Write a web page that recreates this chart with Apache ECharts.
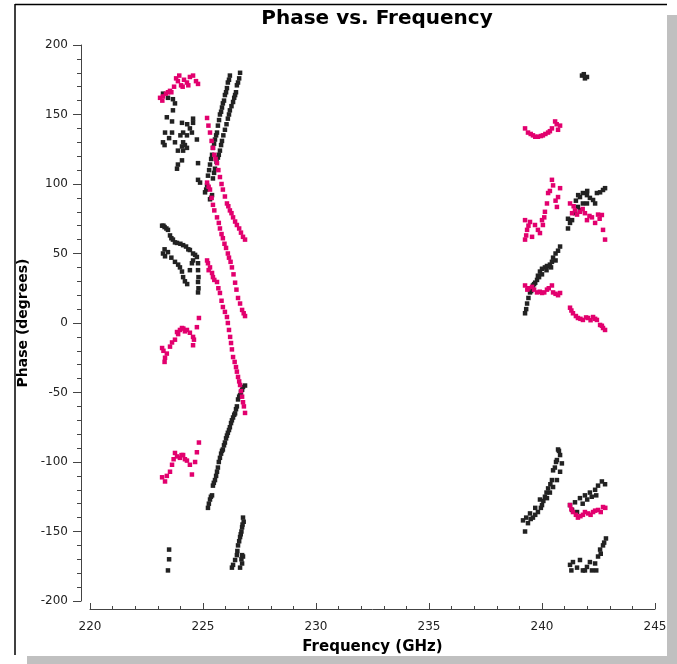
<!DOCTYPE html>
<html>
<head>
<meta charset="utf-8">
<script src="https://cdn.jsdelivr.net/npm/echarts@6/dist/echarts.min.js"></script>
<style>
html,body{margin:0;padding:0;background:#fff;}
#c{width:677px;height:664px;}
</style>
</head>
<body>
<div id="c"></div>
<script>
// ---- axis ticks ----
const xTicks = [220, 225, 230, 235, 240, 245];
const yTicks = [-200, -150, -100, -50, 0, 50, 100, 150, 200];

// ---- black series (frequency GHz, phase deg) ----
const blackA = [[223.23,165],[223.45,162],[223.67,161],[223.76,158],[223.67,153],[223.4,148],[223.63,145],[224.07,144],[224.56,147],[224.56,144],[224.42,140],[224.51,137],[224.29,135],[224.12,137],[223.32,137],[223.63,137],[223.23,130],[223.76,130],[224.12,130],[224.07,127],[224.2,128],[224.73,132],[223.89,124],[224.12,124],[224.29,126],[224.07,117],[223.89,114],[223.85,111],[224.78,115],[224.78,103],[223.3,128],[223.5,133],[224.0,135],[224.3,143],[224.87,101]];
const blackB = [[223.19,70],[223.25,70],[223.3,69],[223.38,68],[223.45,67],[223.54,63],[223.6,61],[223.67,60],[223.76,58],[223.85,57.6],[224.0,57],[224.12,56],[224.25,55],[224.35,53],[224.42,52.5],[224.56,50],[224.65,49],[224.73,47.5],[224.78,43],[224.78,38],[224.8,33],[224.78,29.5],[224.8,25],[224.78,22],[223.23,50],[223.32,48],[223.45,51],[223.6,47],[223.76,44],[223.9,42],[223.98,40],[224.07,37],[224.12,33],[224.2,30],[224.42,38],[224.51,43],[224.56,45],[223.3,53],[224.3,28]];
const blackC = [[223.5,-163],[223.5,-170],[223.45,-178]];
const blackD = [[225.09,94],[225.14,96],[225.18,99],[225.22,106],[225.27,110],[225.31,114],[225.36,118],[225.4,121],[225.44,126],[225.49,129],[225.53,132],[225.58,135],[225.62,137],[225.66,142],[225.71,146],[225.75,150],[225.8,152],[225.84,155],[225.88,158],[225.93,160],[225.97,164],[226.02,166],[226.06,169],[226.1,173],[226.15,175],[226.19,178],[225.31,89],[225.36,90],[225.4,92],[225.44,104],[225.49,108],[225.53,111],[225.6,116],[225.66,119],[225.7,121],[225.75,124],[225.8,128],[225.84,131],[225.9,135],[225.97,139],[226.04,143],[226.1,147],[226.15,150],[226.19,153],[226.26,156],[226.33,159],[226.38,162],[226.42,164],[226.46,166],[226.5,171],[226.55,173],[226.6,176],[226.64,180]];
const blackE = [[225.22,-133],[225.26,-130],[225.31,-127],[225.35,-125],[225.4,-124],[225.44,-117],[225.48,-115],[225.53,-113],[225.58,-110],[225.62,-107],[225.66,-104],[225.7,-100],[225.75,-97],[225.8,-94],[225.84,-92],[225.88,-91],[225.93,-88],[225.97,-86],[226.02,-83],[226.06,-81],[226.1,-79],[226.15,-77],[226.19,-75],[226.24,-72],[226.28,-70],[226.33,-68],[226.38,-66],[226.42,-65],[226.46,-62],[226.5,-60],[226.55,-55],[226.6,-53],[226.64,-52],[226.68,-50],[226.73,-48],[226.77,-46],[226.86,-45]];
const blackF = [[226.8,-143],[226.77,-140],[226.75,-145],[226.73,-147],[226.7,-150],[226.67,-152],[226.64,-154],[226.6,-157],[226.55,-160],[226.52,-164],[226.5,-167],[226.42,-170.5],[226.33,-174],[226.28,-176],[226.73,-167],[226.77,-168],[226.73,-173],[226.64,-176],[226.7,-170]];
const blackG = [[239.25,7],[239.3,10],[239.34,14],[239.4,18],[239.47,22],[239.56,25],[239.6,27],[239.7,29],[239.78,31],[239.82,34],[239.91,37],[240.0,39],[240.13,40],[240.22,41],[240.35,42],[240.44,44],[240.49,47],[240.6,50],[240.71,52],[240.8,55],[240.0,35],[240.2,38],[240.4,40],[240.6,45],[239.52,23],[239.65,28],[239.87,33]];
const blackH = [[239.25,-150],[239.38,-144],[239.5,-141],[239.6,-140],[239.82,-136],[239.95,-133],[240.0,-131],[240.13,-125],[240.27,-119],[240.44,-113],[240.49,-106],[240.62,-100],[240.66,-98.6],[240.71,-91],[239.16,-142],[239.3,-140],[239.47,-137],[239.7,-133],[239.91,-127],[240.22,-126],[240.35,-122],[240.49,-118],[240.66,-113],[240.8,-107],[240.88,-101],[240.8,-95],[240.75,-92],[239.7,-138],[240.06,-128],[240.2,-122],[240.37,-116],[240.57,-104]];
const blackI = [[241.77,178],[241.9,176],[241.99,177],[241.85,179]];
const blackJ = [[241.15,68],[241.15,75],[241.24,72],[241.33,74],[241.46,79],[241.59,83.5],[241.68,81],[241.68,90.6],[241.81,93.5],[241.81,86],[241.99,92],[241.99,86],[242.12,90],[242.26,88.5],[242.35,86],[242.43,93.5],[242.57,94],[242.7,95.7],[242.79,97],[242.0,95],[241.5,88],[241.6,92]];
const blackK = [[241.24,-131],[241.33,-134.5],[241.46,-129],[241.55,-136],[241.68,-126],[241.9,-124],[242.12,-122],[242.35,-120],[242.48,-117],[242.65,-114],[242.79,-116],[241.8,-130],[242.0,-127],[242.2,-125],[242.4,-124]];
const blackL = [[241.24,-174],[241.37,-172],[241.55,-176],[241.68,-170.5],[241.81,-178],[241.99,-175.5],[242.12,-172],[242.21,-178],[242.35,-173],[242.48,-168],[242.57,-163],[242.7,-160],[242.83,-155],[241.3,-178],[241.9,-178],[242.4,-178],[242.6,-166],[242.75,-158]];

// ---- magenta series ----
const pinkA = [[223.1,162],[223.23,163],[223.36,165],[223.54,167],[223.72,170],[223.81,176],[223.89,174],[224.03,171],[224.16,175],[224.29,173],[224.42,177],[224.56,178],[224.69,174],[224.78,172],[223.2,160],[223.6,166],[223.95,178],[224.35,171],[224.1,170],[223.45,166]];
const pinkB = [[223.19,-18],[223.32,-25],[223.4,-22],[223.54,-17],[223.63,-14],[223.76,-12],[223.85,-6.5],[224.07,-3.6],[224.29,-5],[224.42,-7],[224.56,-10],[224.56,-16],[224.73,-3],[224.82,3.6],[223.25,-20],[223.9,-8],[224.2,-6],[224.6,-12],[223.3,-28],[223.98,-5],[224.13,-4]];
const pinkC = [[223.19,-111],[223.32,-114],[223.4,-110],[223.54,-107],[223.63,-102],[223.76,-93.5],[223.98,-97],[224.12,-95],[224.29,-99],[224.42,-102],[224.51,-109],[224.65,-100],[224.73,-93],[224.82,-86],[223.85,-96],[224.2,-98],[223.7,-98],[224.05,-95]];
const pinkD = [[225.18,147.5],[225.24,142],[225.31,137],[225.38,131],[225.44,126],[225.5,121],[225.56,118],[225.62,115],[225.68,110],[225.75,105],[225.82,100],[225.88,96],[225.97,91],[226.06,86],[226.12,84],[226.19,81],[226.26,79],[226.33,76],[226.42,73],[226.5,70.5],[226.6,68],[226.68,65],[226.77,62],[226.86,60]];
const pinkE = [[225.18,101],[225.25,98],[225.31,96],[225.38,90],[225.44,85],[225.5,81],[225.62,76],[225.7,72],[225.75,68],[225.82,64],[225.88,61],[225.95,57],[226.02,54],[226.1,50],[226.15,47],[226.22,44],[226.28,40],[226.35,35],[226.42,29],[226.48,24],[226.55,18],[226.64,14],[226.73,9.4],[226.8,7],[226.86,5]];
const pinkF = [[225.18,45],[225.22,43],[225.25,38],[225.31,40],[225.4,36],[225.44,33],[225.5,31],[225.62,29.5],[225.68,25],[225.75,21.6],[225.82,16],[225.88,11.5],[225.97,8],[226.06,4.3],[226.1,0],[226.15,-5],[226.2,-10],[226.24,-14.4],[226.28,-19],[226.33,-24.5],[226.4,-28],[226.46,-31.7],[226.5,-35],[226.55,-38.8],[226.6,-42],[226.64,-44.6],[226.68,-49],[226.73,-53],[226.77,-57],[226.81,-60],[226.86,-64.7]];
const pinkG = [[239.25,140],[239.38,137],[239.5,136],[239.6,135],[239.7,134],[239.82,134],[239.95,134.5],[240.04,135],[240.15,136],[240.27,137],[240.35,138],[240.44,140],[240.58,145],[240.65,143],[240.71,139],[240.8,142]];
const pinkH = [[240.44,103],[240.49,99],[240.8,97],[240.71,90.6],[240.66,83.5],[240.27,93.5],[240.22,86],[240.13,80],[240.0,74],[240.04,70.5],[239.69,70.5],[239.47,72.7],[239.25,74],[239.34,67],[239.25,60],[239.56,62],[239.82,67],[239.91,64.7],[239.4,70],[240.1,76],[239.3,63],[240.35,95],[240.6,88]];
const pinkI = [[239.25,27],[239.35,24],[239.4,25],[239.56,26],[239.65,24],[239.78,22],[239.9,22.5],[240.0,21.6],[240.1,22],[240.22,24],[240.3,25],[240.44,27],[240.49,22],[240.6,21],[240.71,20],[240.8,21.6]];
const pinkJ = [[241.24,86],[241.33,79],[241.4,84],[241.46,81],[241.55,78],[241.68,80],[241.8,82],[241.9,79],[241.99,74],[242.1,77],[242.21,76],[242.35,72],[242.48,78],[242.55,75],[242.65,77.7],[242.7,67],[242.79,60]];
const pinkK = [[241.24,11],[241.3,9],[241.37,7],[241.5,5],[241.59,3.6],[241.7,3],[241.81,2.2],[241.95,4],[242.04,3.6],[242.15,2],[242.26,4.3],[242.35,3],[242.43,2.2],[242.57,-1.4],[242.65,-2],[242.7,-3.6],[242.79,-5]];
const pinkL = [[241.24,-131],[241.3,-134],[241.37,-136],[241.5,-138],[241.59,-140],[241.7,-139],[241.81,-138],[241.9,-136],[242.04,-137],[242.15,-138],[242.26,-136],[242.35,-135],[242.48,-134.5],[242.6,-136],[242.7,-132.4],[242.8,-133]];

const blackData = [].concat(blackA, blackB, blackC, blackD, blackE, blackF, blackG, blackH, blackI, blackJ, blackK, blackL);
const pinkData = [].concat(pinkA, pinkB, pinkC, pinkD, pinkE, pinkF, pinkG, pinkH, pinkI, pinkJ, pinkK, pinkL);

const chart = echarts.init(document.getElementById('c'), null, {renderer: 'canvas'});
const FONT = 'DejaVu Sans';
const axisCol = '#444';
chart.setOption({
  animation: false,
  backgroundColor: '#fff',
  title: {
    text: 'Phase vs. Frequency',
    left: 372, top: 4, textAlign: 'center',
    textStyle: {fontFamily: FONT, fontWeight: 'bold', fontSize: 20, color: '#000'}
  },
  graphic: [
    {type: 'rect', shape: {x: 667, y: 15, width: 10, height: 649}, style: {fill: '#c0c0c0'}, z: -10, silent: true},
    {type: 'rect', shape: {x: 27, y: 656, width: 650, height: 8}, style: {fill: '#c0c0c0'}, z: -10, silent: true},
    {type: 'line', shape: {x1: 15, y1: 4.5, x2: 667, y2: 4.5}, style: {stroke: '#000', lineWidth: 1.5}, silent: true},
    {type: 'line', shape: {x1: 15, y1: 4, x2: 15, y2: 655}, style: {stroke: '#000', lineWidth: 1.5}, silent: true}
  ],
  grid: {left: 90, right: 22, top: 45, bottom: 63, containLabel: false},
  xAxis: {
    type: 'value', min: xTicks[0], max: xTicks[xTicks.length - 1], interval: 5,
    offset: 8,
    name: 'Frequency (GHz)', nameLocation: 'middle', nameGap: 31,
    nameTextStyle: {fontFamily: FONT, fontWeight: 'bold', fontSize: 15, color: '#000'},
    axisLine: {show: true, onZero: false, lineStyle: {color: axisCol, width: 1}},
    axisTick: {show: true, inside: true, length: 6, lineStyle: {color: axisCol}},
    minorTick: {show: true, splitNumber: 5, length: 3, lineStyle: {color: axisCol}},
    axisLabel: {fontFamily: FONT, fontSize: 12, color: '#222', margin: 12},
    splitLine: {show: false}, minorSplitLine: {show: false}
  },
  yAxis: {
    type: 'value', min: yTicks[0], max: yTicks[yTicks.length - 1], interval: 50,
    offset: 9,
    name: 'Phase (degrees)', nameLocation: 'middle', nameGap: 43,
    nameTextStyle: {fontFamily: FONT, fontWeight: 'bold', fontSize: 14, color: '#000'},
    axisLine: {show: true, onZero: false, lineStyle: {color: axisCol, width: 1}},
    axisTick: {show: true, inside: false, length: 8, lineStyle: {color: axisCol}},
    minorTick: {show: true, splitNumber: 5, length: 4, lineStyle: {color: axisCol}},
    axisLabel: {fontFamily: FONT, fontSize: 12, color: '#222', margin: 13},
    splitLine: {show: false}, minorSplitLine: {show: false}
  },
  series: [
    {type: 'scatter', name: 'black', data: blackData, symbol: 'rect', symbolSize: 4.5,
     itemStyle: {color: '#222222', opacity: 1}, z: 2, silent: true},
    {type: 'scatter', name: 'magenta', data: pinkData, symbol: 'rect', symbolSize: 4.5,
     itemStyle: {color: '#e2006e', opacity: 1}, z: 3, silent: true}
  ]
});
</script>
</body>
</html>
